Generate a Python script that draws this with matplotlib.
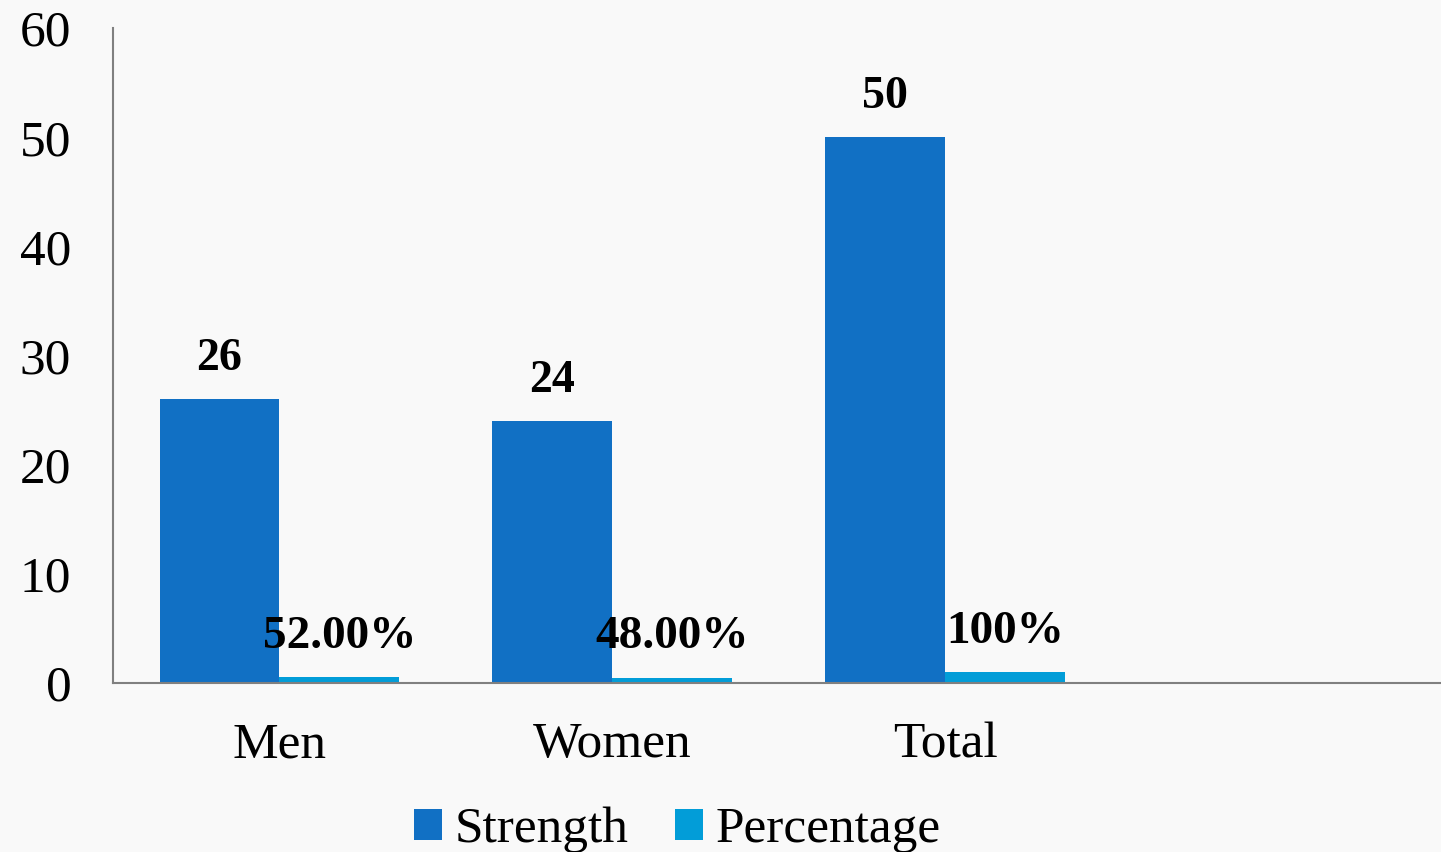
import matplotlib.pyplot as plt
import numpy as np

# data
categories = ["Men", "Women", "Total", ""]
strength = [26, 24, 50]
percentage = [0.52, 0.48, 1.0]
pct_labels = ["52.00%", "48.00%", "100%"]
yticks = [0, 10, 20, 30, 40, 50, 60]

plt.rcParams['font.family'] = ['Liberation Serif', 'DejaVu Serif']

fig = plt.figure(figsize=(14.41, 8.52), dpi=100)
fig.patch.set_facecolor('#f9f9f9')
ax = fig.add_axes([0.0784, 0.1984, 0.9216, 0.7686])
ax.set_facecolor('none')

x = np.arange(len(strength))
w = 0.36
b1 = ax.bar(x - w/2, strength, w, color='#1170c4', label='Strength')
b2 = ax.bar(x + w/2, percentage, w, color='#029dd8', label='Percentage')

# data labels
for xi, v in zip(x, strength):
    ax.annotate(str(v), (xi - w/2, v), textcoords='offset points', xytext=(0, 14),
                ha='center', va='bottom', fontsize=33, fontweight='bold')
for xi, v, lab in zip(x, percentage, pct_labels):
    ax.annotate(lab, (xi + w/2, v), textcoords='offset points', xytext=(0, 14),
                ha='center', va='bottom', fontsize=34, fontweight='bold')

ax.set_xlim(-0.5, 3.49)
ax.set_ylim(0, 60)
ax.set_xticks(range(len(categories)))
ax.set_xticklabels(categories)
ax.set_yticks(yticks)
ax.tick_params(axis='both', length=0, labelsize=37, colors='black')
ax.tick_params(axis='y', pad=30)
ax.tick_params(axis='x', pad=28)

for s in ['top', 'right']:
    ax.spines[s].set_visible(False)
for s in ['left', 'bottom']:
    ax.spines[s].set_color('#808080')
    ax.spines[s].set_linewidth(1.5)

ax.legend(loc='upper center', bbox_to_anchor=(0.425, -0.158), ncol=2, frameon=False,
          fontsize=37, handlelength=0.55, handleheight=0.55, handletextpad=0.25,
          columnspacing=0.9, borderaxespad=0)

fig.savefig('out.png', dpi=100, facecolor=fig.get_facecolor())
